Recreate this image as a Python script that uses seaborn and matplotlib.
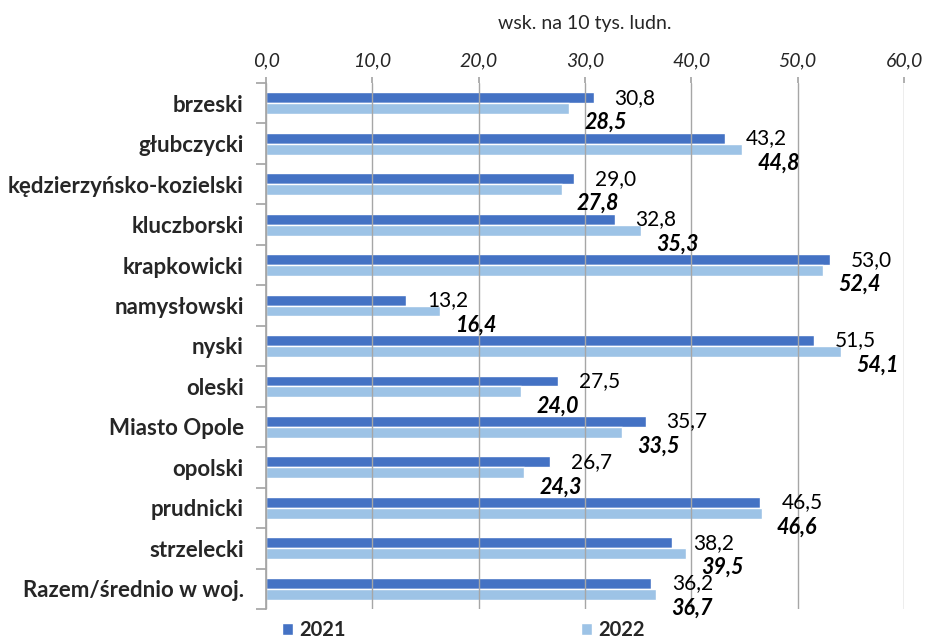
import matplotlib
matplotlib.use("Agg")
import matplotlib.pyplot as plt
import seaborn as sns
import pandas as pd
import numpy as np

categories = ["brzeski", "głubczycki", "kędzierzyńsko-kozielski", "kluczborski",
              "krapkowicki", "namysłowski", "nyski", "oleski", "Miasto Opole",
              "opolski", "prudnicki", "strzelecki", "Razem/średnio w woj."]
v2021 = [30.8, 43.2, 29.0, 32.8, 53.0, 13.2, 51.5, 27.5, 35.7, 26.7, 46.5, 38.2, 36.2]
v2022 = [28.5, 44.8, 27.8, 35.3, 52.4, 16.4, 54.1, 24.0, 33.5, 24.3, 46.6, 39.5, 36.7]
years = ["2021", "2022"]
xticks = [0, 10, 20, 30, 40, 50, 60]
xtick_labels = ["0,0", "10,0", "20,0", "30,0", "40,0", "50,0", "60,0"]
axis_title = "wsk. na 10 tys. ludn."
colors = ["#4472C4", "#9DC3E6"]

sns.set_theme(style="white")
plt.rcParams['font.family'] = ['Lato', 'DejaVu Sans']

df = pd.DataFrame({
    "cat": categories * 2,
    "val": v2021 + v2022,
    "year": [years[0]] * len(categories) + [years[1]] * len(categories),
})

W, H = 928, 644
fig = plt.figure(figsize=(W / 100, H / 100), dpi=100)
L, R, T, B = 266, 904, 83, 609
ax = fig.add_axes([L / W, 1 - B / H, (R - L) / W, (B - T) / H])

sns.barplot(data=df, y="cat", x="val", hue="year", orient="h",
            palette=colors, width=0.54, ax=ax, legend=True, saturation=1)

ax.set_xlim(0, 60)
ax.set_ylim(len(categories) - 0.5, -0.5)
ax.xaxis.tick_top()
ax.set_xticks(xticks)
ax.set_xticklabels(xtick_labels, fontstyle="italic", fontsize=14)
ax.tick_params(axis="x", length=4, color="#A6A6A6", pad=6, top=True, bottom=False)
ax.set_xlabel("")
ax.set_ylabel("")
ax.grid(axis="x", color="#A6A6A6", linewidth=1)
ax.set_axisbelow(False)

# category labels on minor ticks, boundaries on major ticks
n = len(categories)
ax.set_yticks(np.arange(-0.5, n, 1.0))
ax.set_yticklabels([])
ax.set_yticks(np.arange(n), minor=True)
ax.set_yticklabels(categories, minor=True, fontweight="bold", fontsize=16)
ax.tick_params(axis="y", which="major", length=7, color="#A6A6A6", left=True)
ax.tick_params(axis="y", which="minor", length=0, pad=16)

for s in ["top", "right", "bottom"]:
    ax.spines[s].set_visible(False)
ax.spines["left"].set_color("#A6A6A6")

fig.text((L + R) / 2 / W, 1 - 24 / H, axis_title, ha="center", va="center", fontsize=14)

# data labels
c21, c22 = ax.containers[0], ax.containers[1]
for bar, v in zip(c21, v2021):
    y = bar.get_y() + bar.get_height() / 2
    ax.annotate(f"{v:.1f}".replace(".", ","), (bar.get_width(), y),
                xytext=(15, 0), textcoords="offset points",
                ha="left", va="center", fontsize=15, color="black")
for bar, v in zip(c22, v2022):
    y = bar.get_y() + bar.get_height() / 2
    ax.annotate(f"{v:.1f}".replace(".", ","), (bar.get_width(), y),
                xytext=(11, -10), textcoords="offset points",
                ha="left", va="center", fontsize=15.5, fontweight="bold",
                fontstyle="italic", color="black")

handles, labels = ax.get_legend_handles_labels()
ax.get_legend().remove()
leg = fig.legend(handles, labels, loc="center left", bbox_to_anchor=(268 / W, 1 - 630 / H),
                 ncol=2, frameon=False, handlelength=0.55, handleheight=0.55,
                 handletextpad=0.3, columnspacing=11.7, borderpad=0.2,
                 prop={"weight": "bold", "size": 14.5})

fig.savefig("out.png", dpi=100)
